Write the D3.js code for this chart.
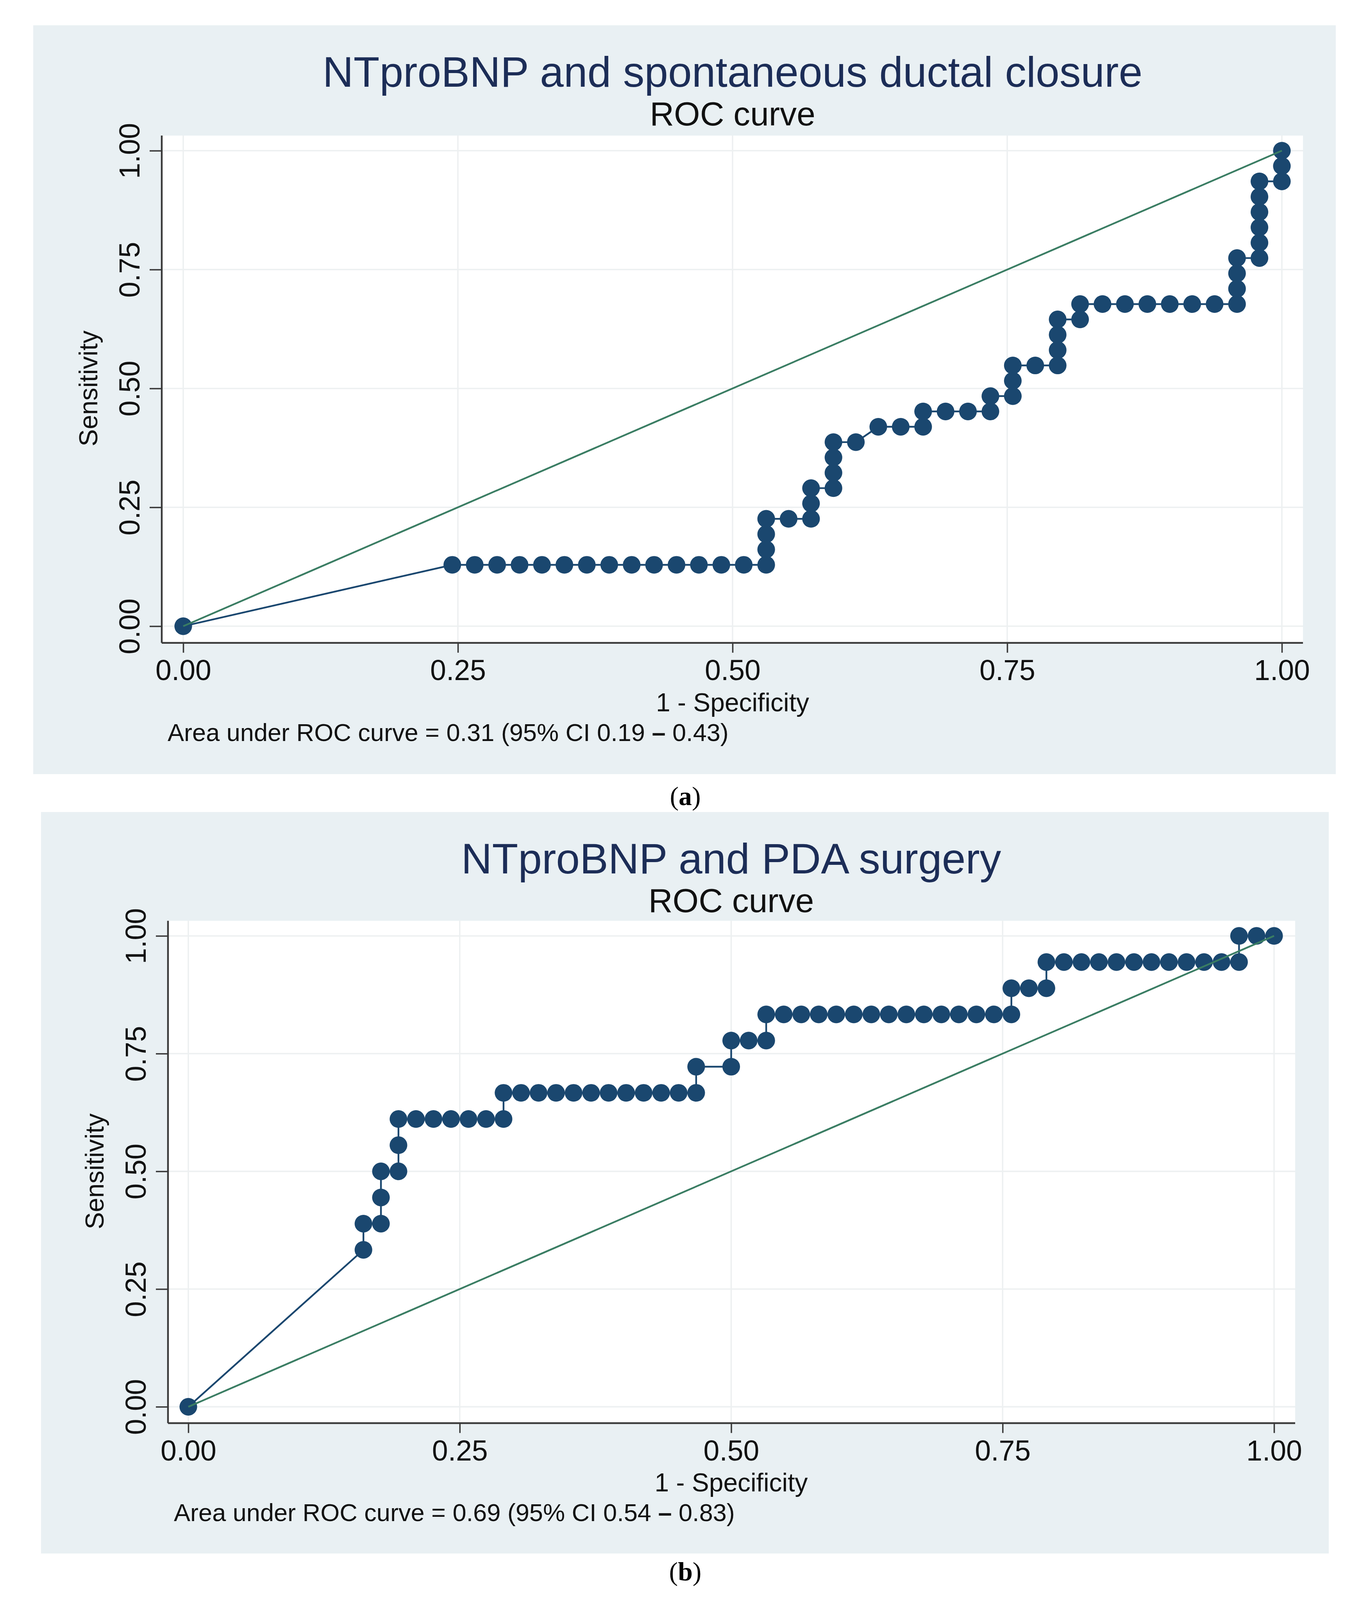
<!DOCTYPE html>
<html>
<head>
	<title>NTproBNP ROC curves</title>
	<script src="https://d3js.org/d3.v7.min.js"></script>

	<style>
		html, body {
			margin: 0;
			padding: 0;
			overflow: hidden;
			background-color: #ffffff;
		}

		svg {
			display: block;
		}

		text {
			font-family: "Liberation Sans", Arial, sans-serif;
		}

		.panel-label {
			font-family: "Liberation Serif", "Times New Roman", serif;
		}
	</style>
</head>

<body>

	<div id="chart"></div>

	<script>

		// Panel (a): spontaneous ductal closure, 31 positives / 49 negatives
		var closurePositives = 31;
		var closureNegatives = 49;
		var closureFalsePos = [0, 12, 13, 14, 15, 16, 17, 18, 19, 20, 21, 22, 23, 24, 25, 26, 26, 26, 26, 27,
			28, 28, 28, 29, 29, 29, 29, 30, 31, 32, 33, 33, 34, 35, 36, 36, 37, 37, 37, 38,
			39, 39, 39, 39, 40, 40, 41, 42, 43, 44, 45, 46, 47, 47, 47, 47, 48, 48, 48, 48,
			48, 48, 49, 49, 49];
		var closureTruePos = [0, 4, 4, 4, 4, 4, 4, 4, 4, 4, 4, 4, 4, 4, 4, 4, 5, 6, 7, 7,
			7, 8, 9, 9, 10, 11, 12, 12, 13, 13, 13, 14, 14, 14, 14, 15, 15, 16, 17, 17,
			17, 18, 19, 20, 20, 21, 21, 21, 21, 21, 21, 21, 21, 22, 23, 24, 24, 25, 26, 27,
			28, 29, 29, 30, 31];

		// Panel (b): PDA surgery, 18 positives / 62 negatives
		var surgeryPositives = 18;
		var surgeryNegatives = 62;
		var surgeryFalsePos = [0, 10, 10, 11, 11, 11, 12, 12, 12, 13, 14, 15, 16, 17, 18, 18, 19, 20, 21, 22,
			23, 24, 25, 26, 27, 28, 29, 29, 31, 31, 32, 33, 33, 34, 35, 36, 37, 38, 39, 40,
			41, 42, 43, 44, 45, 46, 47, 47, 48, 49, 49, 50, 51, 52, 53, 54, 55, 56, 57, 58,
			59, 60, 60, 61, 62];
		var surgeryTruePos = [0, 6, 7, 7, 8, 9, 9, 10, 11, 11, 11, 11, 11, 11, 11, 12, 12, 12, 12, 12,
			12, 12, 12, 12, 12, 12, 12, 13, 13, 14, 14, 14, 15, 15, 15, 15, 15, 15, 15, 15,
			15, 15, 15, 15, 15, 15, 15, 16, 16, 16, 17, 17, 17, 17, 17, 17, 17, 17, 17, 17,
			17, 17, 18, 18, 18];

		var tickValues = [0, 0.25, 0.5, 0.75, 1];
		var titles = ["NTproBNP and spontaneous ductal closure", "NTproBNP and PDA surgery"];
		var subtitle = "ROC curve";
		var xTitle = "1 - Specificity";
		var yTitle = "Sensitivity";
		var aucNotes = [
			["Area under ROC curve = 0.31 (95% CI 0.19 ", "\u2013", " 0.43)"],
			["Area under ROC curve = 0.69 (95% CI 0.54 ", "\u2013", " 0.83)"]
		];
		var panelLetters = ["a", "b"];

		// The figure is laid out on a 3504 x 5192 page; the window can be
		// smaller than that, so every position is mapped onto the real window
		var pageW = 3504, pageH = 5192;
		var W = window.innerWidth || pageW;
		var H = Math.min(window.innerHeight || pageH, pageH);
		var sx = W / pageW, sy = H / pageH;
		var fs = Math.sqrt(sx * sy);          // strokes
		var tf = Math.min(1, fs * 1.06);      // text and markers

		function px(v) { return v * sx; }
		function py(v) { return v * sy; }

		var svg = d3.select("#chart").append("svg")
			.attr("width", W)
			.attr("height", H);

		svg.append("rect")
			.attr("width", W)
			.attr("height", H)
			.attr("fill", "#ffffff");

		// Layout of each Stata graph inside the page (page pixels)
		var layouts = [
			{ box: [85, 82, 3419, 2512], plot: [414, 440, 3335, 2086], x: [469, 3281], y: [2032, 489], letterY: 2612 },
			{ box: [105, 2635, 3401, 5041], plot: [430, 2988, 3315, 4618], x: [482, 3261], y: [4565, 3037], letterY: 5128 }
		];

		function toPoints(fp, tp, nNeg, nPos) {
			return fp.map(function (d, i) {
				return { fpr: d / nNeg, sens: tp[i] / nPos };
			});
		}

		drawPanel(layouts[0], toPoints(closureFalsePos, closureTruePos, closureNegatives, closurePositives), 0);
		drawPanel(layouts[1], toPoints(surgeryFalsePos, surgeryTruePos, surgeryNegatives, surgeryPositives), 1);

		function drawPanel(L, data, k) {

			var navy = "#1a476f";
			var axisColor = "#3a3a3a";
			var g = svg.append("g");

			var left = px(L.plot[0]), right = px(L.plot[2]);
			var top = py(L.plot[1]), bottom = py(L.plot[3]);

			// graph region and plot region
			g.append("rect")
				.attr("x", px(L.box[0]))
				.attr("y", py(L.box[1]))
				.attr("width", px(L.box[2] - L.box[0]))
				.attr("height", py(L.box[3] - L.box[1]))
				.attr("fill", "#e9f0f3");

			g.append("rect")
				.attr("x", left)
				.attr("y", top)
				.attr("width", right - left)
				.attr("height", bottom - top)
				.attr("fill", "#ffffff");

			var x = d3.scaleLinear().domain([0, 1]).range(L.x.map(px));
			var y = d3.scaleLinear().domain([0, 1]).range(L.y.map(py));

			// gridlines
			g.selectAll(".vgrid")
				.data(tickValues)
				.enter()
				.append("line")
				.attr("x1", function (d) { return x(d); })
				.attr("x2", function (d) { return x(d); })
				.attr("y1", top)
				.attr("y2", bottom)
				.attr("stroke", "#edf0f1")
				.attr("stroke-width", 4 * fs);

			g.selectAll(".hgrid")
				.data(tickValues)
				.enter()
				.append("line")
				.attr("x1", left)
				.attr("x2", right)
				.attr("y1", function (d) { return y(d); })
				.attr("y2", function (d) { return y(d); })
				.attr("stroke", "#edf0f1")
				.attr("stroke-width", 4 * fs);

			// axes
			var xAxis = d3.axisBottom(x)
				.tickValues(tickValues)
				.tickFormat(d3.format(".2f"))
				.tickSize(py(32))
				.tickSizeOuter(0);

			var yAxis = d3.axisLeft(y)
				.tickValues(tickValues)
				.tickFormat(d3.format(".2f"))
				.tickSize(px(31))
				.tickSizeOuter(0);

			var gx = g.append("g")
				.attr("transform", "translate(0," + bottom + ")")
				.call(xAxis);

			var gy = g.append("g")
				.attr("transform", "translate(" + left + ",0)")
				.call(yAxis);

			[gx, gy].forEach(function (ax) {
				ax.select(".domain").remove();
				ax.selectAll("line").attr("stroke", axisColor).attr("stroke-width", 4 * fs);
				ax.selectAll("text")
					.attr("fill", "#111111")
					.attr("font-size", 78 * tf)
					.attr("font-family", "'Liberation Sans', Arial, sans-serif");
			});

			gx.selectAll("text")
				.attr("y", py(121))
				.attr("dy", null);

			gy.selectAll("text")
				.attr("transform", "rotate(-90)")
				.attr("text-anchor", "middle")
				.attr("x", 0)
				.attr("y", -px(57))
				.attr("dy", null);

			g.append("line")
				.attr("x1", left)
				.attr("x2", right)
				.attr("y1", bottom)
				.attr("y2", bottom)
				.attr("stroke", axisColor)
				.attr("stroke-width", 5 * fs);

			g.append("line")
				.attr("x1", left)
				.attr("x2", left)
				.attr("y1", top)
				.attr("y2", bottom)
				.attr("stroke", axisColor)
				.attr("stroke-width", 5 * fs);

			// titles
			g.append("text")
				.attr("x", x(0.5))
				.attr("y", py(L.box[1] + 199))
				.attr("text-anchor", "middle")
				.attr("font-size", 116 * tf)
				.attr("fill", "#1c2d57")
				.text(titles[k]);

			g.append("text")
				.attr("x", x(0.5))
				.attr("y", py(L.box[1] + 325))
				.attr("text-anchor", "middle")
				.attr("font-size", 91 * tf)
				.attr("fill", "#111111")
				.text(subtitle);

			g.append("text")
				.attr("x", x(0.5))
				.attr("y", py(L.plot[3] + 222))
				.attr("text-anchor", "middle")
				.attr("font-size", 70 * tf)
				.attr("fill", "#111111")
				.text(xTitle);

			g.append("text")
				.attr("transform", "translate(" + px(L.plot[0] - 165) + "," + y(0.5) + ") rotate(-90)")
				.attr("text-anchor", "middle")
				.attr("font-size", 70 * tf)
				.attr("fill", "#111111")
				.text(yTitle);

			// note with the area under the curve
			var note = g.append("text")
				.attr("x", px(L.plot[0] + 15))
				.attr("y", py(L.plot[3] + 318))
				.attr("font-size", 67 * tf)
				.attr("fill", "#111111");
			note.append("tspan").text(aucNotes[k][0]);
			note.append("tspan").attr("font-weight", "bold").text(aucNotes[k][1]);
			note.append("tspan").text(aucNotes[k][2]);

			// ROC curve: connected markers
			var line = d3.line()
				.x(function (d) { return x(d.fpr); })
				.y(function (d) { return y(d.sens); });

			g.append("path")
				.datum(data)
				.attr("d", line)
				.attr("fill", "none")
				.attr("stroke", navy)
				.attr("stroke-width", 5 * fs);

			g.selectAll(".dot")
				.data(data)
				.enter()
				.append("circle")
				.attr("cx", function (d) { return x(d.fpr); })
				.attr("cy", function (d) { return y(d.sens); })
				.attr("r", 24 * tf)
				.attr("fill", navy);

			// reference diagonal
			g.append("line")
				.attr("x1", x(0))
				.attr("y1", y(0))
				.attr("x2", x(1))
				.attr("y2", y(1))
				.attr("stroke", "#3a7d63")
				.attr("stroke-width", 5 * fs);

			// panel letter under the graph
			var lab = svg.append("text")
				.attr("class", "panel-label")
				.attr("x", px(1754))
				.attr("y", py(L.letterY))
				.attr("text-anchor", "middle")
				.attr("font-size", 72 * tf)
				.attr("fill", "#000000");
			lab.append("tspan").text("(");
			lab.append("tspan").attr("font-weight", "bold").text(panelLetters[k]);
			lab.append("tspan").text(")");
		}

	</script>

</body>
</html>
